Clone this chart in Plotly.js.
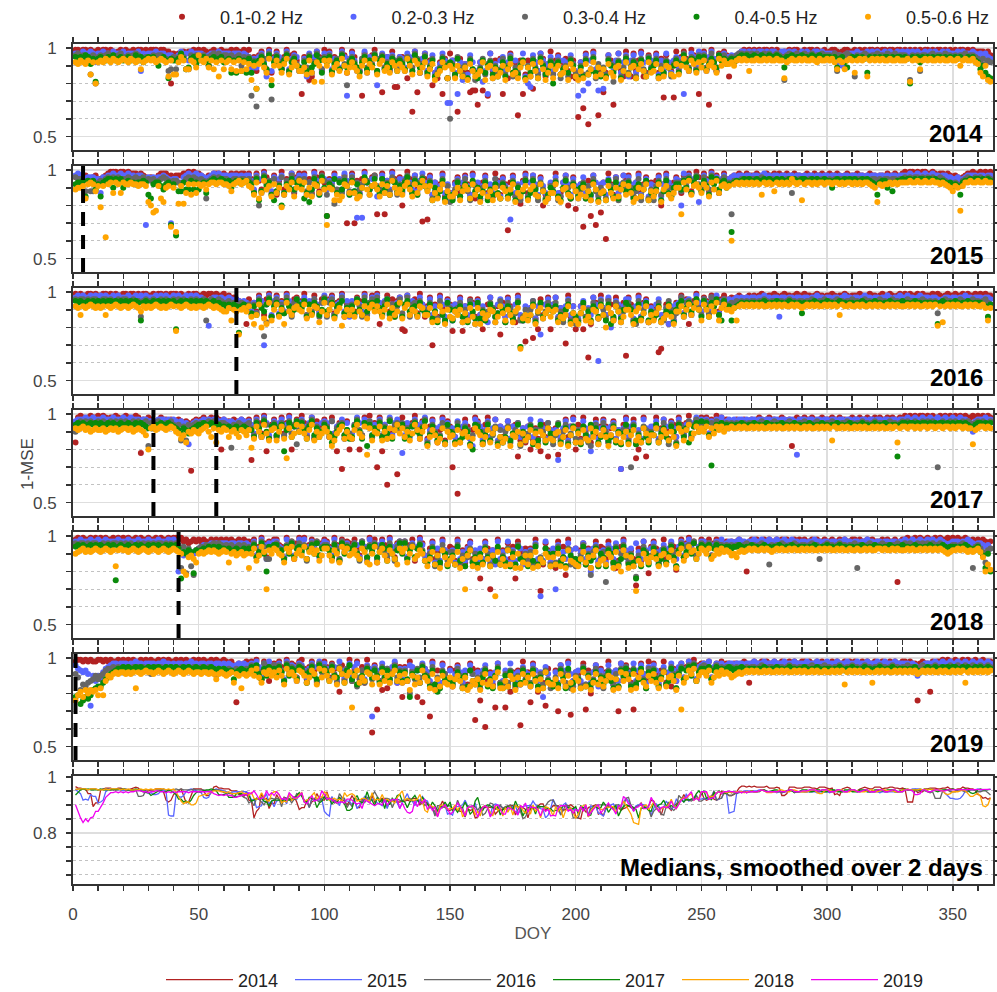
<!DOCTYPE html>
<html><head><meta charset="utf-8">
<script src="https://cdn.plot.ly/plotly-3.0.1.min.js"></script>
<style>html,body{margin:0;padding:0;background:#fff}#chart{width:997px;height:992px}</style>
</head><body><div id="chart"></div>
<script>
// ---------------- DATA ----------------
const years = [2014, 2015, 2016, 2017, 2018, 2019];
const bandNames = ['0.1-0.2 Hz', '0.2-0.3 Hz', '0.3-0.4 Hz', '0.4-0.5 Hz', '0.5-0.6 Hz'];
const xTickVals = [0, 50, 100, 150, 200, 250, 300, 350];
const dashedDays = {2014: [], 2015: [4], 2016: [65], 2017: [32, 57], 2018: [42], 2019: [1]};
// Daily 1-MSE values, one character per day of year (DOY 1..365), blocks of 10 days.
// code: '0'=0.99, '1'=0.98, ... '9'=0.90, 'a'=0.89 ... 'z'=0.64, 'A'=0.63 ... 'I'=0.55
const CODE = "0123456789abcdefghijklmnopqrstuvwxyzABCDEFGHI";

const d2014_b1 = "0010010110 1001012101 0110100101 00010011j2 3221211010 1019101101 1101012010 a4c315b0d4 15b40c326a p4bhf514c0 51c46b03d5 14acq2b530 c5oa4b1ll4 4bg5z1od62 c6kdg7p5g2 6ez5c8donn v7ndq2c6e5 pcg2d7B6pe 6dm7c25f81 d63e75cf6g C7x2G61dBc od36v82cf1 ef2c61fd37 72d5r38cr1 a415c03bp5 1bv05c2413 f646210101 0101001010 1211010012 0100101102 1001210011 0101010010 1001001001 0101010100 1010010101 0100101011 11213";
const d2014_b2 = "2231221272 2122312221 322221c232 2213226334 5313261222 2353222122 2232223234 b5a426f1c5 24a61b534c a5f2d416b2 42b56a14q5 26cc51d453 k52b4c36a4 5a24c16d52 c73db826uu 6dp7h8e37c d7icp2b8e6 4c73e6b82f jl37c26e84 c84e67d38c q7n3j62bne me38c62d73 f63d827e46 83e6c27d64 b5p6c24a15 2c415a3624 4353211212 1211212112 2112121221 2122112122 2227393222 2122212121 2212122121 2121212212 1212212122 2121222123 23245";
const d2014_b3 = "324334e3j4 3432434324 4343234545 4343345cb4 b434bb3535 4354323243 3435439454 q6w735c2s6 37b52d648c c6a3d725b4 63d75b28k6 47bc53a682 d53a7c46b5 7c46a25d83 e95fda48gD 8f4ae9g5bh fa5e86g9db 5e94fad86g 9f5ae48db6 e86ga9f58d f9e5db4g8e ae58i96fa4 d96f85be4a 85g9e6af85 c726a45b36 3a627c4536 5463223232 3233232432 34h3233243 2332433233 342c343234 f343234332 3342332433 34h343c334 3243342334 3433243345 75867";
const d2014_b4 = "45463485i5 4564536546 5465364754 5469546g56 6525ba5486 5469546547 65d6d5c6d5 d7m648b3k7 48b63c759a b7c4a836d5 74c86b39a7 58ad74b693 c64b8a57c6 8b57c36a94 da6feb59g7 9e5cfag6bd gb6d97eafc 7fa5dce96g ad6bg59ec7 j97ebad69f gaf6ec5daf bf69da7gc5 ea7g96cf5b 96fbd7ae96 d837b56c47 4b857a3658 6575434344 3443453443 45a4435443 4453443544 454a547a54 54545d4545 4544545445 45j4547454 5454454545 4545545467 b9dfg";
const d2014_b5 = "786786e7j7 6756756765 675676b765 6576567f6e e746bb67a3 675a6b7f6b 76b7c6c7b8 h9m86ad5h9 69d85ea79c cae6di79i6 96ea8c59da 7acf96d8a5 e86cad79c8 ac59e68da7 fb8hec7ag9 bg9cfah8cf ec7ha9gbfd 9hb8edga7h af8cg7bhd9 gb9edah8bf hcg8eb7fae bg8dfa9hc7 ea9gb8cf7d c8gbf9aef8 e95ac68d7a 6c97ad5968 87965656c6 6566565665 66g7656656 5665675665 657b67b656 d6565f6565 6566566566 65i656b656 5665656656 6596566578 df9hi";

const d2015_b1 = "3275246324 4321000100 1011121234 3542111324 2221101011 2342311121 2312121121 4b15a036c2 d50a461c31 51d4c03b16 p461b5a2tc 1t5c406a32 ob1o5d04c3 j504c2a6s4 r2d6c71e8c e63c827d1f 7f62c8e15d 37x62e8i51 c628e3jdf7 81ec62jf3l d7ve5p2ucn 6C17d3e825 28e61c73f6 c52j718e63 5c241b603a 14b032c514 5322123122 2123212212 1221321223 2123122122 1221232122 2122321223 2231221231 0100101001 1012112123 2343211011 01010";
const d2015_b2 = "2123433344 c342212212 21223223u3 43533234t4 4663212212 2343212122 2322232322 5a24c165b3 b42c651a42 42c6a15d34 a562c4b15d 2bqcq16a43 ec2b5a16c4 c436a2b516 73d6e82c7f c74e638d27 6f83d7c46e 48er3c7f62 e627d48cf6 83ce627d48 f73c8e26d7 6d48e3c726 37f62d84e7 c83e726d84 5j162c43ha 25a163b425 4323223223 2232122322 3223223223 2322322322 3223232232 2322323223 2232322322 2212212212 2122322334 4354322223 22322";
const d2015_b3 = "3445b5bb76 5643434344 4344344354 5465434565 5676434345 45f5434344 4554454454 6c3jb275d4 c73d582b64 74b6d38c25 d68ia5c37b 3c6a745d82 8a4c6b35d7 b527c4d638 95fbea4g8h fa5e94bg68 ag95fbe48f 69fa5e8gb4 eb49g6afd8 85gea49f6b da6f8g4be9 bf58e4ga69 59eb4g86fa g85db49ea6 6b483c527a 37a264c536 6o56545454 4543454454 54545c4545 4544545445 4545445454 5445455445 4544544544 3434334343 4344345679 6785434434 34434";
const d2015_b4 = "7665e565a7 e654494549 656676656d f7668a76u7 Abb6aa5a6a 76c6545545 6596565656 7c4gb386dg b8jc794a65 8fcha47d39 p794c6a58d 5b7d936a84 9c4a7d56b8 a639c5d748 a6g9eb5fcd gc6ea79f5b 9eb6gad7cf 7aec6g9db5 fc5ae7bgd9 b6eg95cf7a e97fbd6agc cg5ae6f97b 6bf97ea5gc da6gb5ce97 7a594c638b 58d374a659 7y65654545 5455454554 5455454554 4554545545 5954554545 455454567d 65596b6554 5445454454 4545656768 78d6554544 54545";
const d2015_b5 = "a998f767b8 k8B76c67c6 776778778h jnm8fh98v9 yi8ic7d7c7 87a7667667 78b7657658 9d6fc5a8e7 c9kd8a6e95 a6d9e78c5a u9agdge78c 6cfe95ad87 ae7c8d59ca d86ae7c958 b8gcfa7hbe ec9gb8af7d ahc8ebg9df 9bfa7hcea8 ga8de7bhfc c7fha9de8b fd9ebg7ahc bg8cf9ea7d 8chf9ea7gb eb7ha8dfc9 9o6a5d879c 79e6a5c879 8D76767676 767d6767b6 767674676g 7667676676 6766767667 676766789h 7877676766 6656656656 656676789b 89m8665665 66566";

const d2016_b1 = "0101100101 1001010110 0100101001 1010010100 0101101001 1010010110 21323456h3 b5a14c30d5 1c4a06b325 40d5b16a32 c31b540d6a 5a24c0b613 0hc51a3d42 kl1c53b06d 72t6d18e36 l682l7e35d 3cke628d7n 5d27cg1efr d8pek3c62k 62e8cs1d7k f7kdAh25e1 8c36e27d5z 26f81d53g7 e7xvc6h8f5 51b3hc406a 24b152a314 3242123212 1210121101 2101121011 0112101121 1012110121 1101210112 1011012101 0101101011 1010121011 0110101101 01011";
const d2016_b2 = "2121221212 1212212122 2122121212 2212121221 2122121212 234i322323 3234345456 a5b24t61c4 2b5a14c635 52c4a36b51 b42c651a4d 4c36a1b526 15b43c6a52 c61a45d26b 83c7e26d47 f683d7c46e 4c7eg28d63 7d38e62cf7 c84e7nd638 62d8e73c7f e74d8c26C3 8c2je46d73 38e72d64f8 d63ce8h7f6 52b43c615a 35a261b435 3432323232 2322122322 d223223223 2232212232 2322321223 2232122322 3221232212 2122321222 3223432232 2322122322 23223";
const d2016_b3 = "3433434334 4334344343 344344d434 4344343443 4343443434 43f4344345 5465765676 c6b37og2d5 3c6b27d548 74c6a38d52 d53c862b7a 6b47d2c538 28b54c6a73 b72d65c48a 95fae4bg68 ea85g9f4bh 6f9ea58gb4 ag58eb4fd9 d94fb6ea58 85eag94fbh fb6d9g5ae4 9e4bf58ga6 58fh4e96gb ea5gf849db 72d54b638c 36b274c536 6564545454 4544345445 4454344544 5443454434 4543445443 4454344544 3445434454 4344544345 454b543445 4434544344 54356";
const d2016_b4 = "4545545454 5454454545 454545f545 5454545454 k545454545 4545546566 76867m7687 b7c48a63d7 5c8b47a936 84d6b57c93 a95d764b8c 7b39c4a658 48c73b9d65 d64a87c59b b6eag7cf59 f9b7dcg6ae 5eafc69db7 9g7bea5ufc ec6ga5db79 a7fce96gbd gb5eaf79d6 cf6hd7ae95 79gf6eb5fa dc7fea6bg9 64c85a739d 48d573cf48 7f87656565 5655456554 556545565b 5655456554 5565455655 6554565545 5655456554 5565455655 565h545655 4565545655 567d6";
const d2016_b5 = "78c7876787 87c7876787 787678a787 8767878767 l787678787 787678789a a8f9an98a7 dhc6jeh5f9 6d9h5ac879 a6e9c78ga5 c96ea8id9c 9d5ac7e86a 7ad96e8ca5 e86c9ad78c c8gbf7ah9d eac9gbf8dh 8hbec9agd7 bf9cga8vec fc7ha8eb9d a9gdec7hbf hb8fdg9ae7 cj8bf7agd9 9cha8fb7gc fb8gec7dha a7d96c859f 69d7a5f869 9a8f767676 7676776767 6767767678 7676767767 6767c67767 7676776767 6776767677 7676767767 676i7g7676 7677676767 768f8";

const d2017_b1 = "f101210110 1012110121 012101l231 2763122323 423534v323 21321212j2 4352342352 pb14a0kc52 c51a40j623 04b51d3a62 5c1ak4ub3j d62jb150c4 t1k5D2a6x3 1c5a406d32 d627f81e36 tcIf726d81 37e51c82f6 c83d65ne7f 6je7dk5cn8 e7md82c61j 5d18ef72c6 26f73d8u51 d72oje1nc8 61e728d35c 15b40c6231 41a2503142 3432432342 3212321223 21232h2122 1221232122 2122122321 2212212212 1221212212 0101010010 1011010101 0101011010 10101";
const d2017_b2 = "3222122122 2122212221 2212223223 3432223232 34354g5434 3232322332 3434532343 5a26c14b63 b42c51a634 26a41c5b43 4c3a652d4b a514c263b5 62c5a1b426 lb4c625a41 e837c62f47 7c3e648dh2 46d83c72e6 f73d684c7e 62c8e37d48 d8pc73e62f 8e37ck64d7 37e64d8u72 c64f8d27e6 73d826e47c 26a53b4162 42a3524153 2323223232 2322322322 3223223m22 2322322322 3223223223 2232232232 2322322322 2122122122 1221221221 2212234932 22122";
const d2017_b3 = "9434343443 4344343434 344343443h 4543454435 65e6e56546 4543434544 56i5645654 7b36c25d84 c64b73a5g8 37c52d6a84 6c3b754d8a d528b463c7 83b6d2c547 4c7a538b62 fa59eb4g6a 9f4ea68gb5 5ag94eb6f8 e96fa84hbe a5f8g69e4b gb4e95fa6d 8e6afh95gb 49fb5eag86 et5gaf68d9 b6e84ag59f 46b83c5274 63b4735464 5454544544 4543445434 4454344544 3445434454 4344544344 5443445434 4454344543 4344344343 434t434434 3443434543 43443";
const d2017_b4 = "5454554545 4554545545 5455454567 7655455456 78a78a8765 5455456576 7687687678 8c47b39d65 b75k84c639 48d63b7c95 7afc965b8d c639d4h5b7 94c7a3d856 5d8b649a73 gb6aec7f59 af6ec79gj5 69fb5ea7gc fc7eab5g9d c6g9e5bf7a ea5fc7gb6f 9g6be5a7fc 7bec6f9ga5 f96gbe7cfa b5fa7ce69g 58c7fa6493 74bs856475 6565545655 4556545565 5455654556 5545655455 6554556545 5654556545 5545655n54 4544545445 4545445454 5445456754 45454";
const d2017_b5 = "7876879878 8798787987 78798789bj 7687678767 9adbf9a89a 8769c7f897 8c98ac89b8 id69c5ae87 e96do7ca59 6ad85e9ca7 9chea86d9c d85ac6m7e9 a6e9d7c85a 7c9ea58d96 hc8bfd7g9c bg8fa9chd7 9bgc8fa7hc fd7hbc9gae c8fah9be7d ea9gc8hb7f af8de7c9gb 8chb7eafc9 gb8ecf7aeb b7fc8ae9ch 79e85da697 96c7a68697 7677676776 7676776767 6776767677 6767767676 7e67767677 6767677676 7677676f76 6766767667 6676676676 7667677g87 66767";

const d2018_b1 = "1010110101 0101101010 1011010110 1101011010 0102132121 2123121212 1212212122 41a503b241 145b062c30 50c4162a31 25b04d1623 416a25c031 e514c06b32 52b41d603a d62c8e17f5 6d1f7e52c8 enc26t7d1f 7e3c5n28d6 c6e1duf37e 8h2e5l17c6 d73f6h82e5 6c27ehd518 e7cr6d28k5 26e71c835i 51b3042a51 241a315242 3232123j21 2122121221 2121221212 1221212212 2122121221 1212212122 2121221p21 1011010110 1101011010 1011012121 21232";
const d2018_b2 = "2212221221 2212222122 2122212221 2221222121 2j8a878976 5454343433 3433433434 52a614c352 256b143a61 41c5263b42 36a15c2436 634b25d143 c426a15d42 42b63c514a c83e6d27f8 7e2c8d63e7 d6c38e7f2c 8c2e7d46f8 e7f3cxd28e 6t4d8c37e6 f83c7j64d8 7e46c3f827 d6e38c27e6 38d74e628c 52a4163b52 253a425143 2232122322 1221221221 2212212232 2322122322 3223221223 2232212232 2322322322 1221221221 2122123432 2232212343 34546";
const d2018_b3 = "3433434334 4343433434 3434434343 4343343434 34h5k6gl76 5645434345 4546545465 63b725cc64 367c482b53 74d6382a54 47b36c2845 538d26b473 c647a38d52 82c54b637d e95gbf4ad8 8f4eagb6d9 gae59fbd6e ae6g8f4bd9 d8f4gbe6af 9e5dbg6feg fa4e9l85gb 8p6af5e94b e9gmaf58ea 59fb6ea48g 73b5482a63 463a536454 5454454345 454345f454 4345443454 454344c543 4454344544 3h44543445 4344544344 3434434343 4344345654 4543456h54 68e76";
const d2018_b4 = "5454554545 455454o545 5455454554 5454554545 46n8978k78 7675656566 7687678676 74b839j564 487c593b65 85c7493a65 57b48d3956 649c37b584 b846d59c73 93c75b648d db6fae79gc af5dcg97eb f9e6bgad5f be7g9f5cda gad5fce69g 9f6ebg7adc ec5fadb6g9 bg79e6fc5a faencg79fb 6afc7e95bg 74b8593c64 574b648575 5655456554 5565455655 4565545655 5655456554 5565455655 6554565545 5655456554 5565455655 4565545655 5655456765 8ah9j";
const d2018_b5 = "9876878767 876787g767 7876787678 7678767876 789jlbace9 8987878987 8e98a98a9h 96da58t796 79ae685c97 a5c8697da6 6ad79e586a 97ac68ef95 e86ad79cf6 86e95ca79d gc8fah7bfd bf8hcta7gc hbf7cgax8f cg7fbh9hea fah8gce9bg bf9gch7def gc8ebha7fd cf9bh8gj7a hbgudf9ceb 8cga9fb7dh 96da587c96 796ca79687 8a9b878767 6776767876 7677676776 7676776767 6776767767 7677676776 6767767677 7676776767 6767678987 7676787876 8bjfi";

const d2019_b1 = "1001010110 0101011010 1010110101 0110101011 0101011010 1011010110 1213o23212 1405b13c42 514c0623a1 05b416d231 4a25ci3b60 c51b4d06F3 schagb52d4 l4c16aldo5 7w1e6d28c5 f638d7e25y 6n8Cc7er2d erdi7f6B18 7o26i8dq5e d6t38e1vc7 8e2s6j73d5 c718e6t273 6dsf728c16 27e61d8f5c 52a4160b32 241a523142 23223212d2 1221212212 2122121221 1212212122 2121221212 1221212212 2122121221 12122n2122 i121101011 0110101101 10111";
const d2019_b2 = "356768q9c9 b754322322 2322122322 2232212232 3223221223 2232232232 3234323233 2514a26153 426b1534c2 36a524c162 5b34c16a52 a42d6b35w4 6c2a5b41d5 b5c34a6d25 7c2ehd38c6 e847d6f38c 7d63e8c72f c6e28d7e47 8f36c7l48d e7d36f28c7 6c4e8d73f6 d837e6c274 7e2c638d47 36d84e726c 42a5162b43 251a425243 2232223222 1222122212 2212221222 2122212221 2221222122 2122212221 2212221222 2232394322 2212212212 2122122122 12212";
const d2019_b3 = "8ahefdcb9b 9865545454 5454545454 8545454545 4545545455 4554569565 6576567656 3647b25483 736c2845a3 47d638c274 6b38d47c53 c7fa6d48b5 8c4b5d73a6 d6cj7b5a38 9e4gaf68db db59fag68e ag85ebf94d e8d6ag9e5b 9d5af8e6bg eaf58d6gf9 af4e8gb5d9 g96be8f5a4 8e5da6bg59 5af96eb48g 74b5382c64 364b536454 5454545454 4543454454 4454344544 5443454434 4544345443 4454344544 3445434454 4344564345 4434454434 4344344344 34434";
const d2019_b4 = "lkpnlmkhgf fdba876554 5455454554 5454554545 4554545545 5455456565 676b765676 4738b59475 847c3956b4 58d749b365 7c49a58d63 b8ed9c57a6 9d5a6b84c7 c7bl8a6d49 af6eig7bdc eb7ag9f6cd cea6fbg95e g9f7bead6c 9e6bfag7cd fce6ag5edb bg5f9ec7da ea7cgbf695 9f6eb5cg7a 6bfa7ec59g 85b6493c75 574b647565 4565545655 5655456554 5565455655 4565545655 5655456554 5565455655 4565545655 5655467654 5545545454 4554545545 45545";
const d2019_b5 = "nkilhjhihk gkc9a87877 8787g78767 7876787678 7678767877 877878b878 987d89g898 695ad78697 a69e5879c6 79da68e5a6 9c6ae58d97 r96dac78ea ae7c9d86c9 d8ch9ead6a cg8hbf9dea fb9cgahfce bhd8ecfa7g gcf9bhae8d af8chbg7de ebg8cf9dha cg7fahd8eb fc9ahbg7c8 bh8ga7df9c 8dgb7fa9ch 9sda685c97 796da79687 8a98787676 7677676776 7676776767 6776767767 767676e767 6767767d76 7676776767 6767687676 7677676776 7676d76767 67676";

const rawByYear = {
  2014: [d2014_b1, d2014_b2, d2014_b3, d2014_b4, d2014_b5],
  2015: [d2015_b1, d2015_b2, d2015_b3, d2015_b4, d2015_b5],
  2016: [d2016_b1, d2016_b2, d2016_b3, d2016_b4, d2016_b5],
  2017: [d2017_b1, d2017_b2, d2017_b3, d2017_b4, d2017_b5],
  2018: [d2018_b1, d2018_b2, d2018_b3, d2018_b4, d2018_b5],
  2019: [d2019_b1, d2019_b2, d2019_b3, d2019_b4, d2019_b5]
};

// ---------------- STYLE ----------------
const bandColors = ['#b22222', '#5865ff', '#666666', '#0a8a0a', '#ffa500'];
const yearColors = ['#b22222', '#5865ff', '#666666', '#0a8a0a', '#ffa500', '#f000f0'];
const FONT = 'Liberation Sans, Arial, Helvetica, sans-serif';
const NDAYS = 365;

function decode(s) {
  const out = [];
  for (const c of s.replace(/\s+/g, '')) {
    out.push(c === '.' ? null : (99 - CODE.indexOf(c)) / 100);
  }
  while (out.length < NDAYS) out.push(null);
  return out.slice(0, NDAYS);
}
function median(arr) {
  const v = arr.filter(x => x != null).sort((a, b) => a - b);
  if (!v.length) return null;
  const m = v.length >> 1;
  return v.length % 2 ? v[m] : (v[m - 1] + v[m]) / 2;
}

const H = 992, T = 44, B = 108, plotH = H - T - B, plotW = 920, L = 73;
function py(px) { return (H - B - px) / plotH; }
function pxX(px) { return (px - L) / plotW; }
const panelTop = [44, 166, 288, 410, 532, 654, 776];
const panelH = [106, 106, 106, 106, 106, 106, 108];

const traces = [];
const medians = {};
const days = Array.from({length: NDAYS}, (_, i) => i + 1);
years.forEach((yr, k) => {
  const ax = k === 0 ? '' : String(k + 1);
  const series = rawByYear[yr].map(decode);
  series.forEach((vals, b) => {
    traces.push({
      type: 'scatter', mode: 'markers', x: days, y: vals,
      xaxis: 'x' + ax, yaxis: 'y' + ax, name: bandNames[b],
      marker: {color: bandColors[b], size: 6, line: {width: 0}},
      showlegend: k === 0, legend: b === 0 ? 'legend' : 'legend' + (b + 1), hoverinfo: 'skip'
    });
  });
  // daily median over the bands, smoothed over neighbouring days
  const med = days.map((d, i) => median(series.map(s => s[i])));
  const sm = med.map((v, i) => {
    const w = [med[i - 1], v, med[i + 1]].filter(x => x != null);
    return w.length ? w.reduce((a, c) => a + c, 0) / w.length : null;
  });
  medians[yr] = sm;
});
years.forEach((yr, k) => {
  traces.push({
    type: 'scatter', mode: 'lines', x: days, y: medians[yr],
    xaxis: 'x7', yaxis: 'y7', name: String(yr), line: {color: yearColors[k], width: 1.3},
    legend: 'legend' + (k + 6), showlegend: true, hoverinfo: 'skip'
  });
});

const layout = {
  width: 997, height: 992,
  margin: {l: L, r: 4, t: T, b: B, autoexpand: false},
  paper_bgcolor: '#fff', plot_bgcolor: '#fff',
  font: {family: FONT, size: 17, color: '#444'},
  showlegend: true,
  shapes: [], annotations: []
};
// one legend per entry so every entry sits where it does in the figure
bandNames.forEach((nm, b) => {
  layout[b === 0 ? 'legend' : 'legend' + (b + 1)] = {
    orientation: 'h', x: pxX(144 + 171.5 * b), xanchor: 'left', y: py(17), yanchor: 'middle',
    font: {family: FONT, size: 18, color: '#222'}, itemwidth: 66, bgcolor: 'rgba(0,0,0,0)', borderwidth: 0
  };
});
years.forEach((yr, k) => {
  layout['legend' + (k + 6)] = {
    orientation: 'h', x: pxX(161 + 129 * k), xanchor: 'left', y: py(980), yanchor: 'middle',
    font: {family: FONT, size: 18, color: '#222'}, itemwidth: 67, bgcolor: 'rgba(0,0,0,0)', borderwidth: 0
  };
});

for (let i = 0; i < 7; i++) {
  const ax = i === 0 ? '' : String(i + 1);
  const isLast = i === 6;
  layout['xaxis' + ax] = {
    domain: [0, 1], anchor: 'y' + ax, range: [0, 366],
    tickmode: 'array', tickvals: xTickVals, ticks: 'outside', ticklen: 5, tickwidth: 1.5, tickcolor: '#333',
    showline: true, linecolor: '#333', linewidth: 2, mirror: 'ticks',
    showgrid: true, gridcolor: '#dedede', gridwidth: 1.5, zeroline: false,
    minor: {dtick: 10, tick0: 0, ticks: 'outside', ticklen: 5, tickwidth: 1.5, tickcolor: '#333', showgrid: false},
    showticklabels: isLast, tickfont: {size: 17, color: '#444'}, ticklabelstandoff: isLast ? 9 : 0,
    title: isLast ? {text: 'DOY', font: {size: 17, color: '#555'}, standoff: 4} : undefined
  };
  const top = panelTop[i], h = panelH[i];
  layout['yaxis' + ax] = {
    domain: [py(top + h), py(top)], anchor: 'x' + ax,
    range: isLast ? [0.617, 1.003] : [0.424, 1.023],
    tickmode: 'linear', tick0: 0, dtick: isLast ? 0.2 : 0.5,
    ticks: 'outside', ticklen: 5, tickwidth: 1.5, tickcolor: '#333',
    showline: true, linecolor: '#333', linewidth: 2, mirror: 'ticks',
    showgrid: true, gridcolor: '#dedede', gridwidth: 1.5, zeroline: false,
    minor: {dtick: isLast ? 0.05 : 0.1, tick0: 0, ticks: 'outside', ticklen: 5, tickwidth: 1.5, tickcolor: '#333',
      showgrid: true, gridcolor: '#c2c2c2', griddash: 'dot', gridwidth: 1},
    tickfont: {size: 17, color: '#444'}, ticklabelstandoff: 6
  };
  const label = isLast ? 'Medians, smoothed over 2 days' : String(years[i]);
  layout.annotations.push({
    text: '<b>' + label + '</b>', xref: 'x' + ax + ' domain', yref: 'y' + ax + ' domain',
    x: 1, y: 0, xanchor: 'right', yanchor: 'bottom', xshift: -8, yshift: 1, showarrow: false,
    font: {family: FONT, size: 24, color: '#000'}
  });
  if (!isLast) {
    (dashedDays[years[i]] || []).forEach(d => {
      layout.shapes.push({type: 'line', xref: 'x' + ax, yref: 'y' + ax + ' domain', x0: d, x1: d, y0: 0, y1: 1,
        line: {color: '#000', width: 4, dash: '14px,9px'}, layer: 'above'});
    });
  }
}
layout.annotations.push({
  text: '1-MSE', xref: 'paper', yref: 'paper', x: pxX(27), y: py(464), xanchor: 'center', yanchor: 'middle',
  textangle: -90, showarrow: false, font: {family: FONT, size: 17, color: '#444'}
});

Plotly.newPlot('chart', traces, layout, {staticPlot: true, displayModeBar: false});
</script>
</body></html>
